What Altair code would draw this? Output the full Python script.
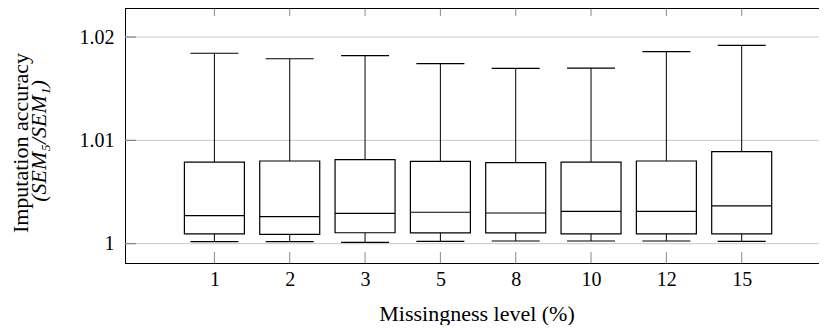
import altair as alt
import pandas as pd

# ---- data ----
levels = ["1", "2", "3", "5", "8", "10", "12", "15"]
lower = [1.00019, 1.00019, 1.00013, 1.00023, 1.00026, 1.00026, 1.00026, 1.00023]
q1 = [1.00094, 1.00091, 1.00106, 1.00104, 1.00104, 1.00094, 1.00094, 1.00094]
median = [1.00271, 1.00261, 1.00294, 1.00304, 1.00297, 1.00313, 1.00313, 1.00365]
q3 = [1.00790, 1.00800, 1.00813, 1.00797, 1.00784, 1.00790, 1.00800, 1.00890]
upper = [1.01843, 1.01790, 1.01820, 1.01742, 1.01697, 1.01700, 1.01858, 1.01920]
y_ticks = [1.0, 1.01, 1.02]

df = pd.DataFrame({"level": levels, "lower": lower, "q1": q1, "median": median,
                   "q3": q3, "upper": upper})
tick_df = pd.DataFrame({"v": y_ticks})
one = pd.DataFrame({"a": [0]})

W, H = 694, 255
FONT = "Liberation Serif"

xscale = alt.Scale(type="point", domain=levels, range=[89.4, 616.7], padding=0)
yscale = alt.Scale(domain=[0.99813, 1.02281], nice=False, zero=False)

x_axis = alt.Axis(title=None, ticks=False, tickSize=0, labelAngle=0, labelFont=FONT,
                  labelFontSize=20, labelColor="black", labelPadding=22,
                  labelBaseline="alphabetic", domain=False, grid=False)
y_axis = alt.Axis(title=None, values=y_ticks, format=".2~f", ticks=False, tickSize=0,
                  labelPadding=11, labelFont=FONT, labelFontSize=20, labelColor="black",
                  domainColor="black", domainWidth=1, grid=False)

base = alt.Chart(df)
X = alt.X("level:N", scale=xscale, sort=levels, axis=x_axis)


def Y(field):
    return alt.Y(field, type="quantitative", scale=yscale, axis=y_axis)


grid = alt.Chart(tick_df).mark_rule(color="#c8c8c8", strokeWidth=1).encode(
    y=Y("v"), x=alt.value(0), x2=alt.value(W))

whisker = base.mark_rule(color="black", strokeWidth=1).encode(
    x=X, y=Y("lower"), y2="upper:Q")

box = base.mark_bar(fill="white", stroke="black", strokeWidth=1.2, size=60).encode(
    x=X, y=Y("q1"), y2="q3:Q")

med = base.mark_tick(color="black", thickness=1.2, size=60, opacity=1).encode(
    x=X, y=Y("median"))

cap_lo = base.mark_tick(color="black", thickness=1.2, size=48, opacity=1).encode(
    x=X, y=Y("lower"))
cap_hi = base.mark_tick(color="black", thickness=1.2, size=48, opacity=1).encode(
    x=X, y=Y("upper"))

xt_bot = base.mark_rule(color="#8a8a8a", strokeWidth=1).encode(
    x=X, y=alt.value(H - 11), y2=alt.value(H))
xt_top = base.mark_rule(color="#8a8a8a", strokeWidth=1).encode(
    x=X, y=alt.value(0), y2=alt.value(8))

yt = alt.Chart(tick_df).mark_rule(color="#777777", strokeWidth=1).encode(
    y=Y("v"), x=alt.value(0), x2=alt.value(11))

top = alt.Chart(one).mark_rule(color="black", strokeWidth=1).encode(
    x=alt.value(0), x2=alt.value(W), y=alt.value(0.5))
bottom = alt.Chart(one).mark_rule(color="black", strokeWidth=1).encode(
    x=alt.value(0), x2=alt.value(W), y=alt.value(H + 0.5))

ytitle1 = alt.Chart(one).mark_text(font=FONT, fontSize=22, angle=270, align="center",
                                   baseline="alphabetic", color="black").encode(
    x=alt.value(-97), y=alt.value(135), text=alt.value("Imputation accuracy"))
ytitle2 = alt.Chart(one).mark_text(font=FONT, fontSize=22, angle=270, align="center",
                                   baseline="alphabetic", fontStyle="italic",
                                   color="black").encode(
    x=alt.value(-79), y=alt.value(133), text=alt.value("(SEM₅/SEM₁)"))
xtitle = alt.Chart(one).mark_text(font=FONT, fontSize=22, align="center",
                                  baseline="alphabetic", color="black").encode(
    x=alt.value(352), y=alt.value(313), text=alt.value("Missingness level (%)"))

chart = alt.layer(
    grid, whisker, box, med, cap_lo, cap_hi, xt_bot, xt_top, yt, top, bottom,
    ytitle1, ytitle2, xtitle
).properties(
    width=W, height=H,
    autosize=alt.AutoSizeParams(type="none"),
    padding={"left": 117, "top": 0, "right": 0, "bottom": 62},
    background="white",
).configure_view(stroke=None)

chart.save("out.html", embed_options={"renderer": "svg", "actions": False})
